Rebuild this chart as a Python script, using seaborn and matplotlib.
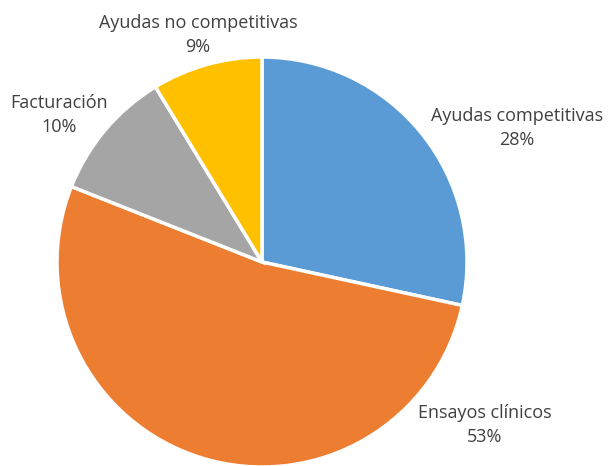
import matplotlib
matplotlib.use("Agg")
import matplotlib.pyplot as plt
import seaborn as sns

# --- datos / data ---
categorias = ["Ayudas competitivas", "Ensayos clínicos", "Facturación", "Ayudas no competitivas"]
porcentajes = [28.4, 52.6, 10.3, 8.7]  # etiquetas redondeadas
colores = ["#5B9BD5", "#ED7D31", "#A5A5A5", "#FFC000"]

# posiciones de las etiquetas (px de la imagen) / label positions
pos_etiquetas = [(517, 128), (485, 425), (59, 115), (198, 35)]

sns.set_theme(style="white")
plt.rcParams['font.family'] = ['Open Sans', 'DejaVu Sans']

W, H = 609, 466
fig = plt.figure(figsize=(W / 100, H / 100), dpi=100)
ax = fig.add_axes([0, 0, 1, 1])

ax.pie(
    porcentajes,
    colors=colores,
    startangle=90,
    counterclock=False,
    center=(262, H - 262),
    radius=205,
    wedgeprops=dict(edgecolor="white", linewidth=2.5),
    frame=True,
)
ax.set_xlim(0, W)
ax.set_ylim(0, H)
ax.set_aspect("equal")
ax.axis("off")

for cat, pct, (x, y) in zip(categorias, porcentajes, pos_etiquetas):
    ax.text(x, H - y, f"{cat}\n{pct:.0f}%", ha="center", va="center",
            fontsize=13, color="#404040", linespacing=1.45)

fig.savefig("out.png", dpi=100)
